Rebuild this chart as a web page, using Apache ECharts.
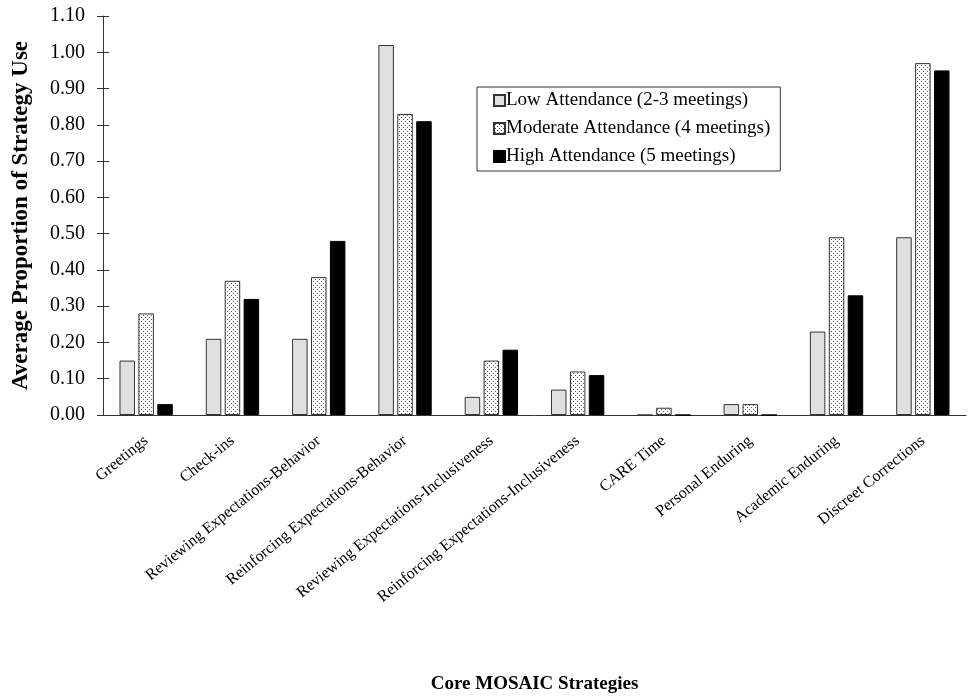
<!DOCTYPE html>
<html>
<head>
<meta charset="utf-8">
<script src="https://cdn.jsdelivr.net/npm/echarts@6/dist/echarts.min.js"></script>
<style>
html,body{margin:0;padding:0;background:#fff;}
#chart{width:971px;height:699px;}
</style>
</head>
<body>
<div id="chart"></div>
<script>
const categories = [
  'Greetings',
  'Check-ins',
  'Reviewing Expectations-Behavior',
  'Reinforcing Expectations-Behavior',
  'Reviewing Expectations-Inclusiveness',
  'Reinforcing Expectations-Inclusiveness',
  'CARE Time',
  'Personal Enduring',
  'Academic Enduring',
  'Discreet Corrections'
];
const seriesNames = [
  'Low Attendance (2-3 meetings)',
  'Moderate Attendance (4 meetings)',
  'High Attendance (5 meetings)'
];
const lowValues = [0.15, 0.21, 0.21, 1.02, 0.05, 0.07, 0.00, 0.03, 0.23, 0.49];
const moderateValues = [0.28, 0.37, 0.38, 0.83, 0.15, 0.12, 0.02, 0.03, 0.49, 0.97];
const highValues = [0.03, 0.32, 0.48, 0.81, 0.18, 0.11, 0.00, 0.00, 0.33, 0.95];
const yTicks = [0, 0.1, 0.2, 0.3, 0.4, 0.5, 0.6, 0.7, 0.8, 0.9, 1.0, 1.1];

const FONT = '"Liberation Serif", "Times New Roman", serif';

// dotted pattern for moderate series
const pat = document.createElement('canvas');
pat.width = 4; pat.height = 4;
const pctx = pat.getContext('2d');
pctx.fillStyle = '#ffffff';
pctx.fillRect(0, 0, 4, 4);
pctx.fillStyle = '#555555';
pctx.fillRect(1, 1, 1, 1);
pctx.fillRect(3, 3, 1, 1);

const chart = echarts.init(document.getElementById('chart'), null, {renderer: 'canvas'});

const yMin = yTicks[0], yMax = yTicks[yTicks.length - 1];
const yInt = 0.1;

const option = {
  backgroundColor: '#fff',
  animation: false,
  grid: {left: 103, right: 5, top: 16, bottom: 274, containLabel: false},
  legend: {
    orient: 'vertical',
    left: 477,
    top: 87,
    padding: [4, 10, 5, 16],
    itemGap: 9,
    itemWidth: 11,
    itemHeight: 11,
    borderColor: '#333',
    borderWidth: 1,
    icon: 'rect',
    textStyle: {fontFamily: FONT, fontSize: 19, color: '#000', padding: [0, 0, 0, -4]},
    data: seriesNames
  },
  xAxis: {
    type: 'category',
    data: categories,
    name: 'Core MOSAIC Strategies',
    nameLocation: 'middle',
    nameGap: 260,
    nameTextStyle: {fontFamily: FONT, fontSize: 19, fontWeight: 'bold', color: '#000'},
    axisLine: {lineStyle: {color: '#333', width: 1}},
    axisTick: {show: false},
    axisLabel: {rotate: 39, fontFamily: FONT, fontSize: 16, color: '#000', margin: 24, interval: 0}
  },
  yAxis: [{
    type: 'value',
    min: yMin, max: yMax, interval: yInt,
    name: 'Average Proportion of Strategy Use',
    nameLocation: 'middle',
    nameGap: 70,
    nameTextStyle: {fontFamily: FONT, fontSize: 23, fontWeight: 'bold', color: '#000'},
    axisLine: {show: true, lineStyle: {color: '#333', width: 1}},
    axisTick: {show: true, length: 6, lineStyle: {color: '#333'}},
    splitLine: {show: false},
    axisLabel: {fontFamily: FONT, fontSize: 20, color: '#000', margin: 18,
      formatter: v => v.toFixed(2)}
  }, {
    type: 'value',
    position: 'left',
    min: yMin, max: yMax, interval: yInt,
    axisLine: {show: false},
    axisTick: {show: true, inside: true, length: 6, lineStyle: {color: '#333'}},
    splitLine: {show: false},
    axisLabel: {show: false}
  }],
  series: [
    {
      name: seriesNames[0], type: 'bar', data: lowValues,
      barWidth: 15.5, barGap: '22%',
      itemStyle: {color: '#e0e0e0', borderColor: '#333', borderWidth: 1}
    },
    {
      name: seriesNames[1], type: 'bar', data: moderateValues,
      barWidth: 15.5, barGap: '22%',
      itemStyle: {color: {image: pat, repeat: 'repeat'}, borderColor: '#333', borderWidth: 1}
    },
    {
      name: seriesNames[2], type: 'bar', data: highValues,
      barWidth: 15.5, barGap: '22%',
      itemStyle: {color: '#000', borderColor: '#000', borderWidth: 1}
    }
  ]
};
chart.setOption(option);
</script>
</body>
</html>
